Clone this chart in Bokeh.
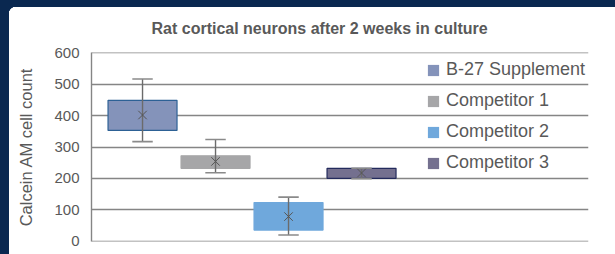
import numpy as np
from bokeh.plotting import figure
from bokeh.models import (Range1d, Legend, LegendItem, FixedTicker, ColumnDataSource,
                          GlobalInlineStyleSheet)
from bokeh.embed import file_html
from bokeh.resources import INLINE

# ---- data ----
groups = ["B-27 Supplement", "Competitor 1", "Competitor 2", "Competitor 3"]
whisker_min = [317, 218, 19, 199]
q1 = [353, 232, 35, 200]
q3 = [449, 272, 123, 232]
whisker_max = [517, 324, 140, 232]
means = [402, 254, 78, 217]
fill_colors = ["#8493ba", "#a6a6a8", "#6fa8dc", "#74708f"]
edge_colors = ["#2d6195", "#a6a6a8", "#6fa8dc", "#232a5c"]
y_ticks = [0, 100, 200, 300, 400, 500, 600]

pos = np.arange(1, len(groups) + 1)
half = 0.945 / 2
cap = 0.14

src = ColumnDataSource(dict(
    x=pos, left=pos - half, right=pos + half, q1=q1, q3=q3,
    lo=whisker_min, hi=whisker_max, mean=means,
    cap_l=pos - cap, cap_r=pos + cap,
    fill=fill_colors, edge=edge_colors, name=groups,
))

TEXT = "#595959"
FONT = "Liberation Sans"

panel_bg = ("radial-gradient(circle at 16px 14px, white 7px, transparent 7.5px) no-repeat, "
            "linear-gradient(white, white) 16px 7px / calc(100% - 16px) calc(100% - 7px) no-repeat, "
            "linear-gradient(white, white) 9px 14px / calc(100% - 9px) calc(100% - 14px) no-repeat, "
            "#0a2850")

p = figure(width=615, height=254, output_backend="svg", toolbar_location=None,
           x_range=Range1d(0.301, 7.109), y_range=Range1d(-1.5, 601.5),
           min_border_left=91, min_border_right=27, min_border_top=52, min_border_bottom=13,
           border_fill_color="white", border_fill_alpha=0, background_fill_color="white",
           outline_line_color=None,
           styles={"background": panel_bg},
           stylesheets=[GlobalInlineStyleSheet(css="body{overflow:hidden;}")])

p.title.text = "Rat cortical neurons after 2 weeks in culture"
p.title.align = "left"
p.title.offset = 60
p.title.text_font = FONT
p.title.text_font_size = "16px"
p.title.text_font_style = "bold"
p.title.text_color = TEXT
p.title.standoff = 31

p.xaxis.visible = False
p.xgrid.visible = False
p.ygrid.ticker = FixedTicker(ticks=y_ticks)
p.ygrid.grid_line_color = "#858585"
p.ygrid.grid_line_width = 1.4

ya = p.yaxis[0]
ya.ticker = FixedTicker(ticks=y_ticks)
ya.axis_line_color = "#858585"
ya.axis_line_width = 1.4
ya.major_tick_line_color = None
ya.minor_tick_line_color = None
ya.major_tick_out = 0
ya.major_tick_in = 0
ya.major_label_standoff = 12
ya.major_label_text_font = FONT
ya.major_label_text_font_size = "15px"
ya.major_label_text_color = TEXT
ya.axis_label = "Calcein AM cell count"
ya.axis_label_text_font = FONT
ya.axis_label_text_font_size = "16.5px"
ya.axis_label_text_font_style = "normal"
ya.axis_label_text_color = TEXT
ya.axis_label_standoff = 16

boxes = p.quad(left="left", right="right", top="q3", bottom="q1", source=src,
               fill_color="fill", line_color=None)
p.quad(left="left", right="right", top="q3", bottom="q1", source=src,
       fill_color=None, line_color="edge", line_width=1.2)
p.segment(x0="x", x1="x", y0="lo", y1="hi", source=src, line_color="#6b6b6b", line_width=1.4)
p.segment(x0="cap_l", x1="cap_r", y0="lo", y1="lo", source=src, line_color="#8a8a8a", line_width=1.6)
p.segment(x0="cap_l", x1="cap_r", y0="hi", y1="hi", source=src, line_color="#8a8a8a", line_width=1.6)
p.scatter(x="x", y="mean", source=src, marker="x", size=12, line_color="#555555", line_width=1.0)

items = [LegendItem(label=g, renderers=[boxes], index=i) for i, g in enumerate(groups)]
legend = Legend(items=items, location=(335, 63), padding=0, margin=0, spacing=0,
                glyph_width=14, glyph_height=14, label_height=31, label_standoff=6,
                label_text_font=FONT, label_text_font_size="18px", label_text_color=TEXT,
                border_line_color=None, background_fill_alpha=0)
p.add_layout(legend, "center")

open("out.html", "w").write(file_html(p, INLINE))
